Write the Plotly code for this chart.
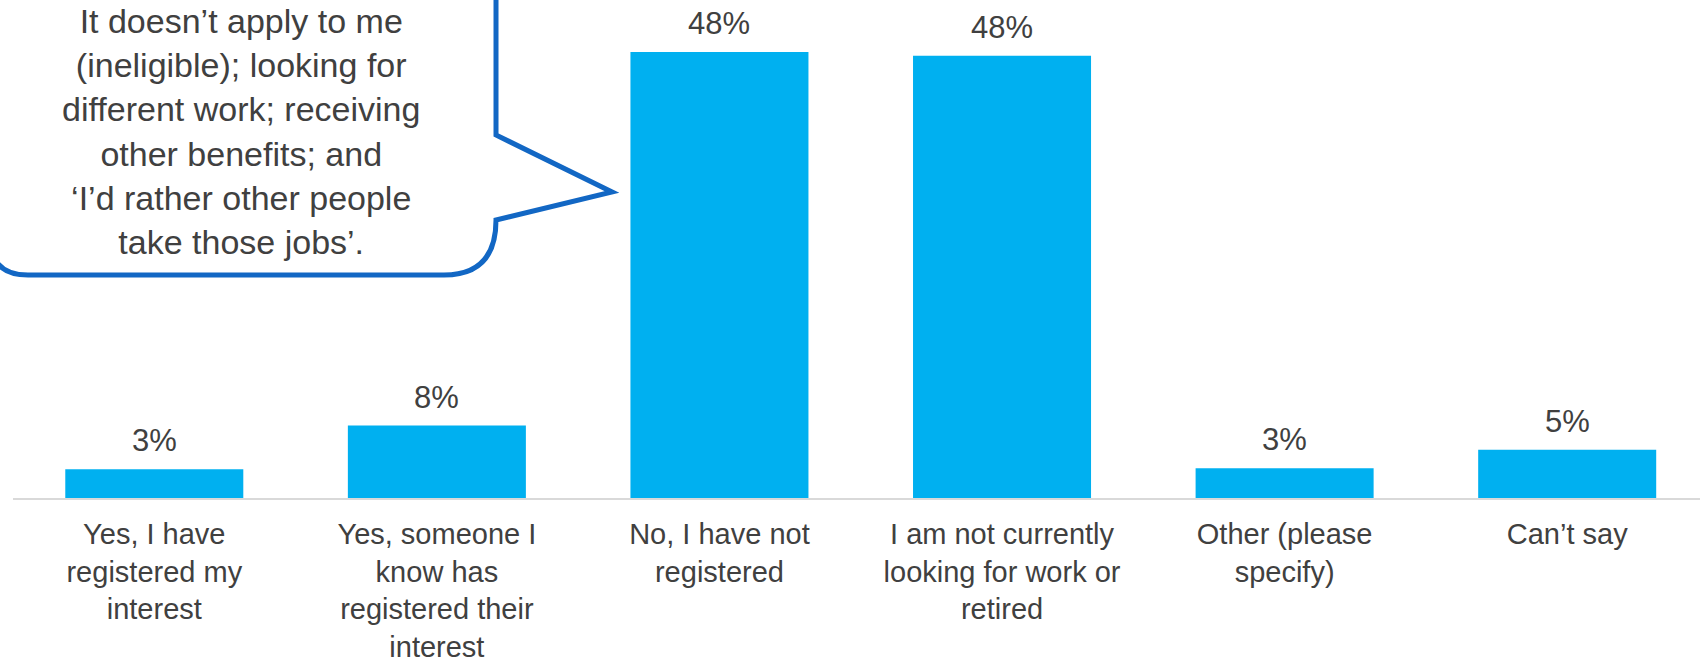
import plotly.graph_objects as go

# categories and values
categories = ["Yes, I have registered my interest",
              "Yes, someone I know has registered their interest",
              "No, I have not registered",
              "I am not currently looking for work or retired",
              "Other (please specify)",
              "Can’t say"]
tick_labels = ["Yes, I have<br>registered my<br>interest",
               "Yes, someone I<br>know has<br>registered their<br>interest",
               "No, I have not<br>registered",
               "I am not currently<br>looking for work or<br>retired",
               "Other (please<br>specify)",
               "Can’t say"]
values = [3.1, 7.8, 48.0, 47.6, 3.2, 5.2]
value_labels = ["3%", "8%", "48%", "48%", "3%", "5%"]

bubble_text = ("It doesn’t apply to me<br>(ineligible); looking for<br>different work; receiving<br>"
               "other benefits; and<br>‘I’d rather other people<br>take those jobs’.")

BAR = "#00B0F0"
TXT = "#404040"
BLUE = "#1267C4"
FONT = "Liberation Sans, Arial, sans-serif"

# plot area in pixels
L, T, W, H = 13, 0, 1687, 498


def px(x, y):
    return (x - L) / W, (T + H - y) / H


def path(points):
    out = []
    for cmd, pts in points:
        coords = " ".join("%.5f,%.5f" % px(*p) for p in pts)
        out.append(cmd + coords)
    return " ".join(out) + " Z"


fig = go.Figure()
fig.add_trace(go.Bar(x=categories, y=values, marker_color=BAR, marker_line_width=0,
                     hoverinfo="skip"))

# percentage labels above bars
for c, v, t in zip(categories, values, value_labels):
    fig.add_annotation(x=c, y=v, text=t, showarrow=False, yanchor="bottom", yshift=9,
                       font=dict(family=FONT, size=31, color=TXT))

# speech bubble
bubble = path([
    ("M", [(-8, -10)]),
    ("L", [(496, -10)]),
    ("L", [(496, 135)]),
    ("L", [(612, 192)]),
    ("L", [(496, 220)]),
    ("Q", [(496, 275), (444, 275)]),
    ("L", [(28, 275)]),
    ("Q", [(-10, 275), (-10, 237)]),
    ("L", [(-10, -10)]),
])
fig.add_shape(type="path", path=bubble, xref="paper", yref="paper",
              line=dict(color=BLUE, width=5), fillcolor="white", layer="above")
bx, by = px(241, 131)
fig.add_annotation(x=bx, y=by, xref="paper", yref="paper", text=bubble_text, showarrow=False,
                   xanchor="center", yanchor="middle", align="center",
                   font=dict(family=FONT, size=34, color=TXT))

fig.update_layout(
    width=1700, height=659,
    margin=dict(l=L, r=0, t=T, b=659 - T - H, autoexpand=False),
    paper_bgcolor="white", plot_bgcolor="white",
    bargap=0.37, showlegend=False,
    font=dict(family=FONT, color=TXT),
)
fig.update_xaxes(range=[-0.5, 5.47], tickvals=categories, ticktext=tick_labels,
                 tickfont=dict(family=FONT, size=29, color=TXT),
                 showline=True, linecolor="#D9D9D9", linewidth=2,
                 ticks="outside", ticklen=9, tickcolor="rgba(0,0,0,0)",
                 showgrid=False, zeroline=False, fixedrange=True, automargin=False)
fig.update_yaxes(range=[0, H / 9.29], visible=False, fixedrange=True, automargin=False)

fig.write_html("out.html", config={"displayModeBar": False},
               post_script="document.body.style.margin='0';")
